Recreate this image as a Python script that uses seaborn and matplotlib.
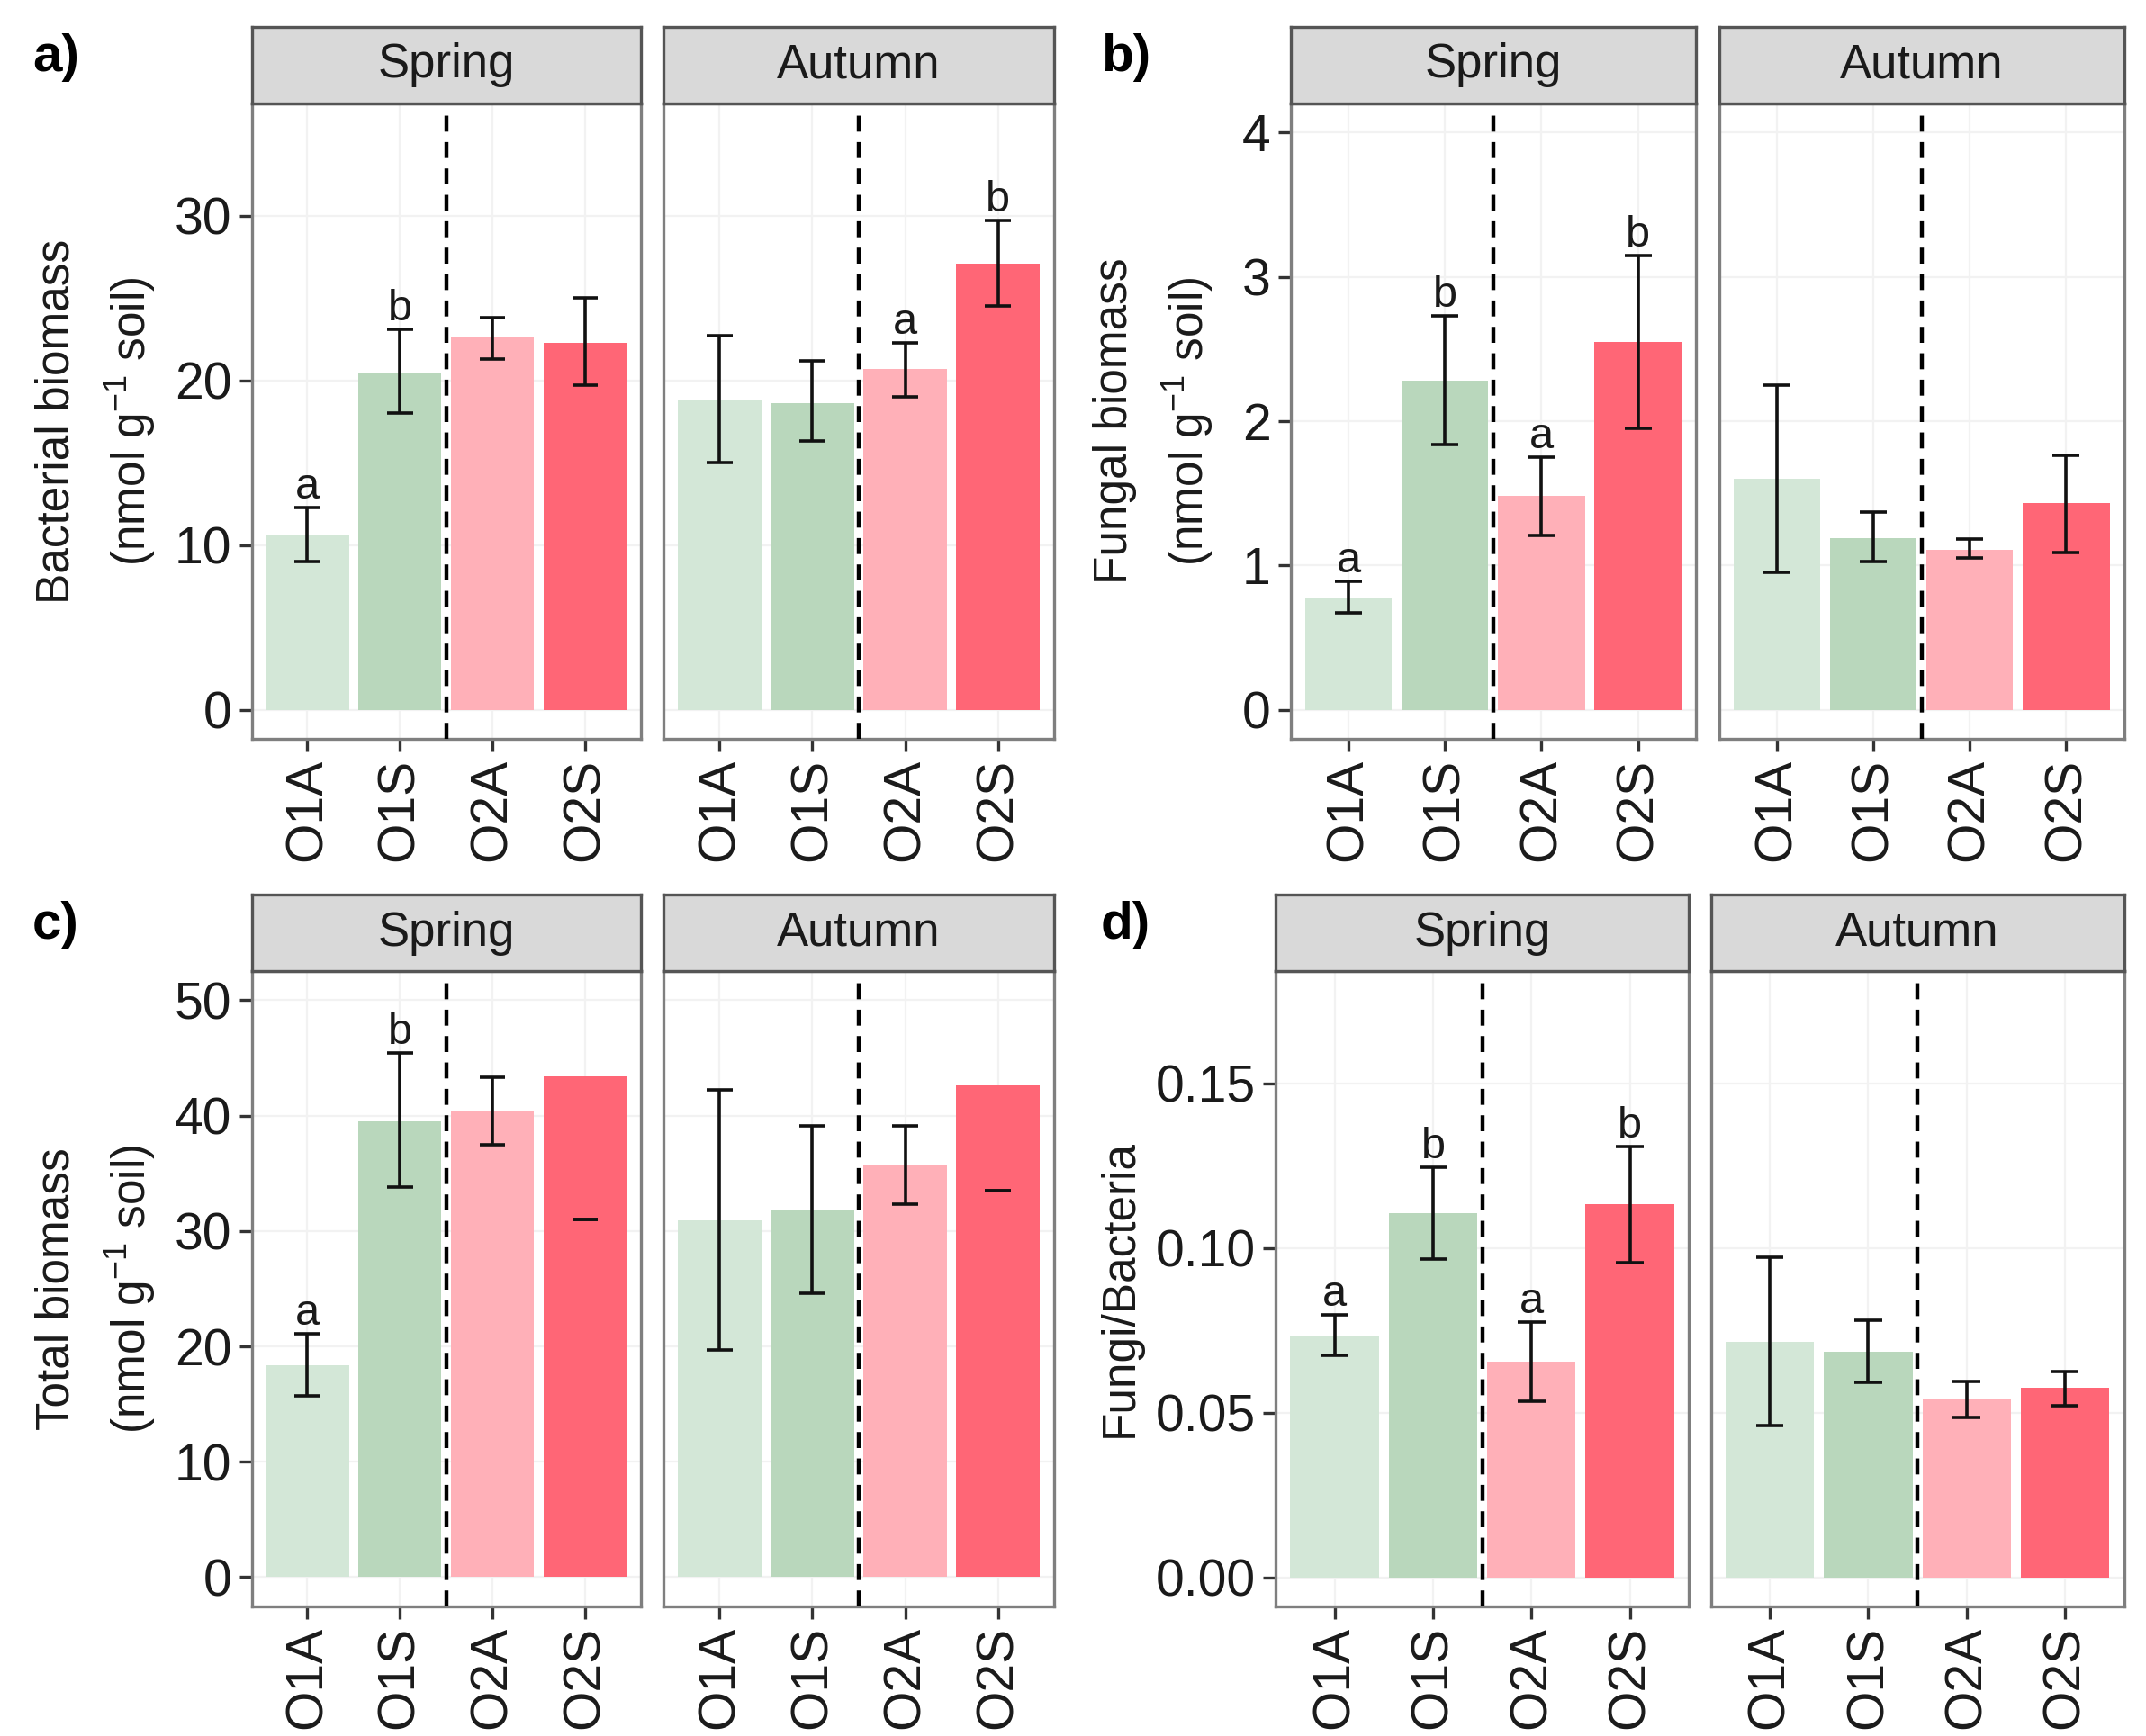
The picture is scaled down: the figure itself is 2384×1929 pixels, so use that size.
import matplotlib
matplotlib.use("Agg")
import numpy as np
import pandas as pd
import matplotlib.pyplot as plt
import seaborn as sns
from matplotlib.ticker import FormatStrFormatter

groups = ["O1A", "O1S", "O2A", "O2S"]
seasons = ["Spring", "Autumn"]
bar_colors = ["#d3e7d7", "#b9d7bc", "#ffb0b8", "#ff6676"]

# 8 values each: Spring O1A..O2S, then Autumn O1A..O2S
bact_mean = [10.6, 20.5, 22.6, 22.3, 18.8, 18.6, 20.7, 27.1]
bact_lo = [9.0, 18.0, 21.3, 19.7, 15.0, 16.3, 19.0, 24.5]
bact_hi = [12.3, 23.1, 23.8, 25.0, 22.7, 21.2, 22.3, 29.7]
bact_letters = ["a", "b", "", "", "", "", "a", "b"]

fung_mean = [0.78, 2.28, 1.48, 2.55, 1.60, 1.19, 1.11, 1.43]
fung_lo = [0.67, 1.84, 1.21, 1.95, 0.95, 1.03, 1.05, 1.09]
fung_hi = [0.89, 2.73, 1.75, 3.15, 2.25, 1.37, 1.18, 1.76]
fung_letters = ["a", "b", "a", "b", "", "", "", ""]

total_mean = [18.4, 39.5, 40.4, 43.4, 30.9, 31.8, 35.7, 42.6]
total_lo = [15.7, 33.8, 37.5, 31.0, 19.7, 24.6, 32.3, 33.5]
total_hi = [21.1, 45.4, 43.3, 31.0, 42.2, 39.1, 39.1, 33.5]
total_letters = ["a", "b", "", "", "", "", "", ""]

ratio_mean = [0.0733, 0.1106, 0.0654, 0.1134, 0.0716, 0.0684, 0.0539, 0.0575]
ratio_lo = [0.0673, 0.0967, 0.0534, 0.0956, 0.0460, 0.0592, 0.0485, 0.0522]
ratio_hi = [0.0796, 0.1246, 0.0775, 0.1308, 0.0971, 0.0780, 0.0595, 0.0625]
ratio_letters = ["a", "b", "a", "b", "", "", "", ""]

sns.set_theme(style="white")
plt.rcParams["font.family"] = ["Liberation Sans", "DejaVu Sans"]
plt.rcParams["mathtext.default"] = "regular"

TXT = "#1a1a1a"


def make_df(mean, lo, hi, letters):
    return pd.DataFrame({
        "season": np.repeat(seasons, len(groups)),
        "group": groups * len(seasons),
        "mean": mean, "lo": lo, "hi": hi, "letter": letters,
    })


def draw_facet(fig, rect, strip_h, sub, season, ylim, yticks, fmt, show_y):
    ax = fig.add_axes(rect)
    sns.barplot(data=sub, x="group", y="mean", hue="group", order=groups,
                hue_order=groups, palette=bar_colors, saturation=1, width=0.9,
                errorbar=None, legend=False, ax=ax, zorder=2, linewidth=0)
    xs = np.arange(len(groups))
    ax.vlines(xs, sub["lo"], sub["hi"], color="#111111", lw=1.3, zorder=4)
    ax.hlines(sub["lo"], xs - 0.14, xs + 0.14, color="#111111", lw=1.3, zorder=4)
    ax.hlines(sub["hi"], xs - 0.14, xs + 0.14, color="#111111", lw=1.3, zorder=4)
    for x, h, t in zip(xs, sub["hi"], sub["letter"]):
        if t:
            ax.annotate(t, (x, h), xytext=(0, 0), textcoords="offset points",
                        ha="center", va="bottom", fontsize=17.5, color=TXT)
    ax.axvline(1.5, color="black", lw=1.6, ls=(0, (4, 2.6)), zorder=5)
    ax.set_xlim(-0.6, 3.6)
    ax.set_ylim(*ylim)
    ax.set_yticks(yticks)
    ax.yaxis.set_major_formatter(FormatStrFormatter(fmt))
    ax.set_xticks(xs)
    ax.set_xticklabels(groups, rotation=90)
    ax.set_xlabel("")
    ax.set_ylabel("")
    ax.grid(True, color="#f2f2f2", lw=0.8, zorder=0)
    ax.set_axisbelow(True)
    for s in ax.spines.values():
        s.set_color("#7f7f7f")
        s.set_linewidth(1.2)
    ax.tick_params(axis="both", length=5, width=1.2, color="#333333",
                   labelsize=20.5, labelcolor=TXT, pad=3,
                   bottom=True, left=show_y, labelleft=show_y)
    st = fig.add_axes([rect[0], rect[1] + rect[3], rect[2], strip_h])
    st.set_facecolor("#d9d9d9")
    st.set_xticks([])
    st.set_yticks([])
    for s in st.spines.values():
        s.set_color("#555555")
        s.set_linewidth(1.2)
    st.text(0.5, 0.5, season, ha="center", va="center", fontsize=19,
            color=TXT, transform=st.transAxes)
    return ax


panels = [
    dict(tag="a)", df=make_df(bact_mean, bact_lo, bact_hi, bact_letters),
         ylabel="Bacterial biomass\n(nmol g$^{-1}$ soil)",
         ylim=(-1.75, 36.8), yticks=[0, 10, 20, 30], fmt="%d",
         xs=[(0.1173, 0.2985), (0.3093, 0.4911)], row=0, ylab_x=0.045, tag_x=0.015),
    dict(tag="b)", df=make_df(fung_mean, fung_lo, fung_hi, fung_letters),
         ylabel="Fungal biomass\n(nmol g$^{-1}$ soil)",
         ylim=(-0.2, 4.2), yticks=[0, 1, 2, 3, 4], fmt="%d",
         xs=[(0.6014, 0.7902), (0.8010, 0.9898)], row=0, ylab_x=0.538, tag_x=0.513),
    dict(tag="c)", df=make_df(total_mean, total_lo, total_hi, total_letters),
         ylabel="Total biomass\n(nmol g$^{-1}$ soil)",
         ylim=(-2.5, 52.5), yticks=[0, 10, 20, 30, 40, 50], fmt="%d",
         xs=[(0.1173, 0.2985), (0.3093, 0.4911)], row=1, ylab_x=0.045, tag_x=0.015),
    dict(tag="d)", df=make_df(ratio_mean, ratio_lo, ratio_hi, ratio_letters),
         ylabel="Fungi/Bacteria",
         ylim=(-0.0087, 0.184), yticks=[0, 0.05, 0.10, 0.15], fmt="%.2f",
         xs=[(0.5944, 0.7870), (0.7972, 0.9898)], row=1, ylab_x=0.522, tag_x=0.513),
]

rows = [dict(bottom=0.5745, top=0.9403, strip=0.0443, tag_y=0.967),
        dict(bottom=0.0749, top=0.4405, strip=0.0441, tag_y=0.467)]

fig = plt.figure(figsize=(11.92, 9.645), dpi=200)

for p in panels:
    r = rows[p["row"]]
    for i, season in enumerate(seasons):
        x0, x1 = p["xs"][i]
        sub = p["df"][p["df"]["season"] == season].reset_index(drop=True)
        draw_facet(fig, [x0, r["bottom"], x1 - x0, r["top"] - r["bottom"]],
                   r["strip"], sub, season, p["ylim"], p["yticks"], p["fmt"],
                   show_y=(i == 0))
    fig.text(p["ylab_x"], (r["bottom"] + r["top"]) / 2, p["ylabel"],
             rotation=90, ha="center", va="center", fontsize=18.5, color=TXT,
             linespacing=1.55, multialignment="center")
    fig.text(p["tag_x"], r["tag_y"], p["tag"], ha="left", va="center",
             fontsize=21, fontweight="bold", color="black")

fig.savefig("out.png", dpi=200)
